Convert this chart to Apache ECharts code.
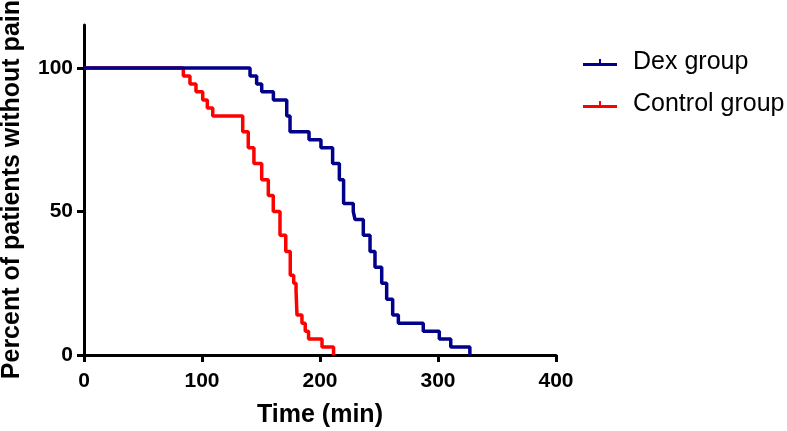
<!DOCTYPE html>
<html>
<head>
<meta charset="utf-8">
<script src="https://cdn.jsdelivr.net/npm/echarts@6/dist/echarts.min.js"></script>
<style>
html,body{margin:0;padding:0;background:#fff;}
#chart{width:787px;height:431px;}
</style>
</head>
<body>
<div id="chart"></div>
<script>
var seriesNames = ['Dex group', 'Control group'];
var dexTime = [0, 140.7, 146.3, 150.6, 160.5, 171.8, 174.6, 190.7, 200.8, 210.7, 216.4, 220, 228.2, 229.7, 236.7, 242.4, 246.6, 252.3, 256.5, 261.6, 266.4, 287.5, 301.1, 310.8, 327];
var dexSurv = [100, 97.2, 94.4, 91.7, 88.9, 83.3, 77.8, 75, 72.2, 66.7, 61.1, 52.8, 50, 47.2, 41.7, 36.1, 30.6, 25, 19.4, 13.9, 11.1, 8.3, 5.6, 2.8, 0];
var ctrlTime = [0, 84.2, 89.8, 94.9, 100.6, 104.5, 109.1, 134.5, 139.2, 144, 150.6, 156.2, 160.4, 166.1, 171, 174.8, 177.7, 179.7, 180.5, 184.7, 187.5, 190.3, 201.7, 211.5];
var ctrlSurv = [100, 97.2, 94.4, 91.7, 88.9, 86.1, 83.3, 77.8, 72.2, 66.7, 61.1, 55.6, 50, 41.7, 36.1, 27.8, 25, 22.2, 13.9, 11.1, 8.3, 5.6, 2.8, 0];
var xTicks = [0, 100, 200, 300, 400];
var yTicks = [0, 50, 100];
var xTitle = 'Time (min)';
var yTitle = 'Percent of patients without pain';

function pairs(t, s) { return t.map(function (v, i) { return [v, s[i]]; }); }

var FONT = '"Liberation Sans", Arial, sans-serif';
var legendIcon = 'path://M0,6 L16,6 L16,2 L18,2 L18,6 L34,6 L34,9 L0,9 Z';

var chart = echarts.init(document.getElementById('chart'), null, {renderer: 'canvas'});
chart.setOption({
  animation: false,
  backgroundColor: '#ffffff',
  grid: {left: 84, right: 231, top: 25, bottom: 76, containLabel: false, outerBoundsMode: 'none'},
  legend: {
    orient: 'vertical',
    left: 578,
    top: 45,
    itemWidth: 34,
    itemHeight: 7,
    itemGap: 17,
    icon: legendIcon,
    itemStyle: {borderWidth: 0},
    textStyle: {fontFamily: FONT, fontSize: 25, color: '#000', padding: [0, 0, 0, 11]},
    data: seriesNames
  },
  xAxis: {
    type: 'value',
    min: xTicks[0],
    max: xTicks[xTicks.length - 1],
    interval: 100,
    name: xTitle,
    nameLocation: 'middle',
    nameGap: 48,
    nameTextStyle: {fontFamily: FONT, fontSize: 25, fontWeight: 'bold', color: '#000'},
    axisLine: {show: true, onZero: false, lineStyle: {color: '#000', width: 3}},
    axisTick: {show: true, length: 7, lineStyle: {color: '#000', width: 3}},
    axisLabel: {fontFamily: FONT, fontSize: 21, fontWeight: 'bold', color: '#000', margin: 16},
    splitLine: {show: false}
  },
  yAxis: {
    type: 'value',
    min: 0,
    max: 115,
    axisLine: {show: true, onZero: false, lineStyle: {color: '#000', width: 3}},
    axisTick: {show: true, length: 7, customValues: yTicks, lineStyle: {color: '#000', width: 3}},
    axisLabel: {fontFamily: FONT, fontSize: 21, fontWeight: 'bold', color: '#000', margin: 11, customValues: yTicks},
    splitLine: {show: false}
  },
  graphic: [{
    type: 'text',
    left: 0,
    top: 0,
    x: 13,
    y: 203,
    rotation: Math.PI / 2,
    style: {
      text: yTitle,
      fontFamily: FONT,
      fontSize: 25,
      fontWeight: 'bold',
      fill: '#000',
      align: 'center',
      verticalAlign: 'middle'
    }
  }],
  series: [{
    name: seriesNames[0],
    type: 'line',
    step: 'end',
    symbol: 'none',
    z: 3,
    color: '#00008b',
    lineStyle: {color: '#00008b', width: 3.5},
    data: pairs(dexTime, dexSurv)
  }, {
    name: seriesNames[1],
    type: 'line',
    step: 'end',
    symbol: 'none',
    z: 2,
    color: '#ff0000',
    lineStyle: {color: '#ff0000', width: 3.5},
    data: pairs(ctrlTime, ctrlSurv)
  }]
});
</script>
</body>
</html>
